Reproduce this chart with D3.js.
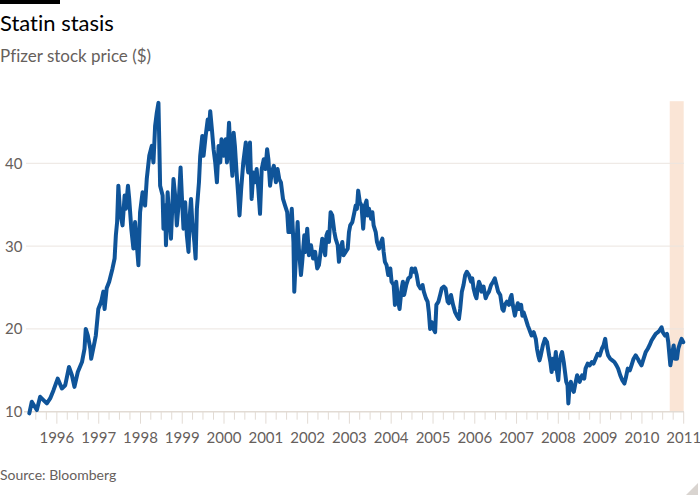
<!DOCTYPE html>
<html>
<head>
<meta charset="utf-8">
<script src="https://cdn.jsdelivr.net/npm/d3@7"></script>
<style>
  body { margin: 0; background: #fff; }
  svg { display: block; font-family: Lato, "Noto Sans", sans-serif; font-variant-ligatures: none; font-feature-settings: "liga" 0; }
</style>
</head>
<body>
<svg></svg>
<script>
var width = 700;
var height = 500;

// dates as decimal years, prices in $
var years = [
  1995.34, 1995.40, 1995.52, 1995.60, 1995.68, 1995.76, 1995.84, 1995.92, 1996.02, 1996.12,
  1996.20, 1996.29, 1996.36, 1996.42, 1996.50, 1996.60, 1996.66, 1996.69, 1996.74, 1996.80,
  1996.82, 1996.90, 1996.93, 1996.99, 1997.06, 1997.11, 1997.14, 1997.19, 1997.25, 1997.33,
  1997.38, 1997.41, 1997.44, 1997.47, 1997.51, 1997.57, 1997.62, 1997.65, 1997.70, 1997.73,
  1997.78, 1997.83, 1997.87, 1997.95, 1997.99, 1998.05, 1998.11, 1998.15, 1998.21, 1998.27,
  1998.31, 1998.35, 1998.39, 1998.43,
  1998.45, 1998.47, 1998.53, 1998.55, 1998.59, 1998.61, 1998.65, 1998.68, 1998.73, 1998.79,
  1998.83, 1998.87, 1998.91, 1998.96, 1998.99, 1999.03, 1999.07, 1999.11, 1999.15, 1999.18,
  1999.21, 1999.24, 1999.29, 1999.32, 1999.35, 1999.40, 1999.43, 1999.48, 1999.51, 1999.56,
  1999.61, 1999.64, 1999.67, 1999.71, 1999.75, 1999.79, 1999.83, 1999.87, 1999.91, 1999.94,
  1999.99, 2000.04, 2000.07, 2000.12, 2000.15, 2000.20, 2000.23, 2000.26, 2000.30, 2000.34,
  2000.37, 2000.41, 2000.46, 2000.52, 2000.55, 2000.58, 2000.62, 2000.66, 2000.70, 2000.74,
  2000.78, 2000.82, 2000.86, 2000.90, 2000.95, 2000.99, 2001.03, 2001.06, 2001.10, 2001.14,
  2001.19, 2001.24, 2001.28, 2001.32, 2001.36, 2001.41, 2001.46, 2001.51, 2001.54,
  2001.58, 2001.62, 2001.66, 2001.68, 2001.72, 2001.76, 2001.79, 2001.84, 2001.87, 2001.92,
  2001.95, 2001.99, 2002.03, 2002.08, 2002.13, 2002.18, 2002.23, 2002.27, 2002.31, 2002.35,
  2002.39, 2002.42, 2002.45, 2002.48, 2002.51, 2002.55, 2002.59, 2002.64, 2002.67, 2002.72,
  2002.75, 2002.78, 2002.83, 2002.86, 2002.91, 2002.96, 2002.99, 2003.02, 2003.07, 2003.12,
  2003.15, 2003.18, 2003.21, 2003.25, 2003.29, 2003.33, 2003.37, 2003.41, 2003.44, 2003.47,
  2003.52, 2003.55, 2003.58, 2003.63, 2003.66, 2003.71, 2003.76, 2003.79, 2003.82, 2003.85,
  2003.89, 2003.93, 2003.98, 2004.01, 2004.06, 2004.09, 2004.12, 2004.17, 2004.20, 2004.25,
  2004.28, 2004.31, 2004.36, 2004.41, 2004.46, 2004.49, 2004.54,
  2004.57, 2004.61, 2004.65, 2004.70, 2004.75, 2004.78, 2004.83, 2004.87, 2004.90, 2004.93,
  2004.97, 2005.01, 2005.05, 2005.08, 2005.13, 2005.17, 2005.21, 2005.26, 2005.30, 2005.35,
  2005.38, 2005.43, 2005.48, 2005.53, 2005.57, 2005.62, 2005.65, 2005.69, 2005.73, 2005.77,
  2005.81, 2005.86, 2005.91, 2005.94, 2005.97, 2006.01, 2006.04, 2006.07, 2006.10, 2006.13,
  2006.16, 2006.21, 2006.26, 2006.29, 2006.34, 2006.39, 2006.44, 2006.48, 2006.53, 2006.56,
  2006.61, 2006.66, 2006.69, 2006.72, 2006.77, 2006.82, 2006.85, 2006.88, 2006.91, 2006.96,
  2006.99, 2007.03, 2007.06, 2007.11, 2007.14, 2007.17, 2007.22, 2007.27, 2007.30, 2007.33,
  2007.36, 2007.41, 2007.46, 2007.49, 2007.52, 2007.55, 2007.58, 2007.63, 2007.68,
  2007.73, 2007.78, 2007.81, 2007.84, 2007.87, 2007.90, 2007.94, 2007.97, 2008.00, 2008.03,
  2008.06, 2008.09, 2008.13, 2008.16, 2008.19, 2008.22, 2008.24, 2008.27, 2008.30, 2008.33,
  2008.37, 2008.40, 2008.45, 2008.48, 2008.51, 2008.54, 2008.57, 2008.62, 2008.65, 2008.70,
  2008.75, 2008.80, 2008.84, 2008.89, 2008.94, 2008.99, 2009.04, 2009.08, 2009.12, 2009.15,
  2009.19, 2009.24, 2009.29, 2009.34, 2009.39, 2009.43, 2009.48, 2009.53, 2009.58, 2009.61,
  2009.66, 2009.71, 2009.75, 2009.80, 2009.85, 2009.90, 2009.94, 2009.99, 2010.04, 2010.09,
  2010.14, 2010.18, 2010.23, 2010.28, 2010.33, 2010.38, 2010.42, 2010.47, 2010.50, 2010.55,
  2010.60, 2010.63, 2010.68, 2010.73, 2010.76, 2010.79, 2010.84, 2010.87, 2010.92, 2010.95,
  2010.99
];

var prices = [
  9.8, 11.2, 10.2, 11.8, 11.4, 11.0, 11.6, 12.6, 14.0, 12.8,
  13.2, 15.4, 14.4, 13.0, 14.8, 16.0, 17.6, 20.0, 19.2, 17.6,
  16.4, 18.4, 19.2, 22.4, 23.3, 24.5, 22.4, 24.9, 25.7, 27.3,
  28.5, 31.3, 32.9, 37.3, 34.1, 32.5, 36.1, 34.5, 37.3, 35.7,
  32.1, 29.7, 32.9, 27.7, 34.1, 36.5, 34.9, 38.1, 40.9, 42.1,
  40.1, 44.5, 46.1, 47.3,
  42.5, 37.3, 36.1, 32.1, 34.9, 30.1, 36.5, 34.1, 30.9, 38.1,
  36.1, 32.5, 34.9, 39.5, 36.1, 32.1, 35.3, 31.3, 29.3, 33.7,
  35.7, 32.9, 30.5, 28.5, 34.5, 37.7, 40.9, 43.3, 40.9, 43.3,
  45.3, 44.1, 46.3, 44.1, 41.7, 40.1, 37.7, 42.1, 40.1, 42.9,
  40.9, 42.9, 40.1, 44.9, 41.7, 38.5, 43.7, 42.1, 38.9, 36.1,
  33.7, 36.9, 40.1, 42.5, 40.1, 38.9, 42.5, 35.7, 38.9, 37.7,
  39.3, 36.9, 33.9, 39.3, 40.5, 39.3, 41.7, 40.5, 37.3, 38.9,
  39.7, 37.7, 39.3, 38.1, 37.7, 35.7, 34.9, 34.1, 31.7,
  31.7, 34.5, 30.5, 24.5, 28.9, 32.9, 29.7, 26.5, 28.1, 31.3,
  29.3, 32.1, 28.9, 30.1, 28.5, 29.3, 27.3, 27.7, 29.3, 30.9,
  29.7, 28.9, 31.3, 31.7, 30.5, 34.1, 33.7, 31.7, 30.9, 30.1,
  28.1, 29.3, 30.5, 28.9, 29.3, 29.7, 31.7, 32.5, 32.9, 34.1,
  34.9, 34.5, 36.7, 35.3, 34.9, 32.1, 34.9, 35.5, 33.7, 34.5,
  33.3, 34.1, 32.5, 31.7, 30.5, 29.7, 30.5, 30.9, 29.3, 28.1,
  27.7, 26.5, 27.3, 25.7, 25.3, 22.9, 25.7, 23.3, 22.4, 24.9,
  25.7, 24.1, 25.3, 26.1, 26.3, 27.3, 26.9,
  27.3, 26.5, 25.3, 24.9, 25.3, 24.5, 23.7, 23.3, 22.0, 20.0,
  20.8, 20.0, 19.6, 22.9, 23.3, 24.1, 24.9, 25.1, 24.9, 23.3,
  23.1, 24.1, 22.9, 22.0, 21.6, 21.2, 22.4, 24.5, 25.3, 26.5,
  26.9, 26.5, 25.7, 26.1, 24.9, 24.1, 23.7, 24.9, 25.7, 25.3,
  24.5, 25.1, 23.7, 24.1, 24.5, 25.3, 25.7, 26.1, 25.1, 24.5,
  24.1, 22.4, 22.2, 22.9, 23.3, 22.9, 23.7, 24.1, 22.9, 21.6,
  22.4, 23.1, 22.4, 22.9, 21.6, 22.0, 21.2, 20.4, 20.0, 19.6,
  19.2, 19.6, 18.8, 17.6, 16.8, 16.2, 16.8, 18.0, 18.8,
  18.4, 16.8, 16.0, 14.8, 16.4, 15.2, 17.2, 14.8, 13.8, 16.0,
  16.8, 17.2, 16.0, 14.8, 13.6, 13.2, 11.0, 13.2, 13.6, 12.8,
  12.4, 13.2, 14.4, 14.0, 13.6, 14.0, 14.4, 14.0, 15.2, 15.8,
  15.6, 16.0, 15.8, 16.4, 17.0, 16.8, 17.6, 18.0, 18.8, 17.6,
  16.8, 16.4, 16.2, 16.0, 15.6, 15.2, 14.4, 13.8, 13.4, 14.0,
  15.2, 15.0, 15.6, 16.4, 16.8, 16.4, 16.0, 15.6, 16.4, 17.2,
  17.6, 18.0, 18.6, 19.0, 19.4, 19.6, 19.8, 20.2, 19.6, 19.2,
  19.4, 18.4, 15.6, 17.2, 18.0, 16.4, 16.4, 17.6, 18.4, 18.8,
  18.4
];

var yTicks = [10, 20, 30, 40];
var highlight = ["2010-09-01", "2011-01-01"];

var title = "Statin stasis";
var subtitle = "Pfizer stock price ($)";
var source = "Source: Bloomberg";

function toDate(y) {
  var yr = Math.floor(y);
  var a = new Date(yr, 0, 1), b = new Date(yr + 1, 0, 1);
  return new Date(+a + (y - yr) * (b - a));
}

var data = years.map(function(y, i) { return { date: toDate(y), value: prices[i] }; });

var svg = d3.select("svg")
  .attr("width", width)
  .attr("height", height);

var x = d3.scaleTime()
  .domain([new Date(1995, 3, 1), new Date(2011, 0, 1)])
  .range([25.4, 683.7]);

var y = d3.scaleLinear()
  .domain([10, 47.5])
  .range([411.7, 101.2]);

var parse = d3.timeParse("%Y-%m-%d");

// top rule
svg.append("rect")
  .attr("x", 0).attr("y", 0)
  .attr("width", 60).attr("height", 4)
  .attr("fill", "#000");

svg.append("text")
  .attr("x", 0).attr("y", 30.5)
  .attr("font-size", "22px")
  .attr("fill", "#000")
  .text(title);

svg.append("text")
  .attr("x", 0).attr("y", 62)
  .attr("font-size", "17px")
  .attr("fill", "#66605c")
  .text(subtitle);

// shaded period
svg.append("rect")
  .attr("x", x(parse(highlight[0])))
  .attr("y", y(47.5))
  .attr("width", x(parse(highlight[1])) - x(parse(highlight[0])))
  .attr("height", y(10) - y(47.5))
  .attr("fill", "#fae5d6");

// gridlines
svg.selectAll(".grid")
  .data(yTicks.filter(function(d) { return d > 10; }))
  .enter().append("line")
    .attr("class", "grid")
    .attr("x1", 26).attr("x2", 684)
    .attr("y1", function(d) { return y(d); })
    .attr("y2", function(d) { return y(d); })
    .attr("stroke", "#ebe5e0")
    .attr("stroke-width", 1);

svg.selectAll(".ylab")
  .data(yTicks)
  .enter().append("text")
    .attr("class", "ylab")
    .attr("x", 5)
    .attr("y", function(d) { return y(d) + 5.5; })
    .attr("font-size", "15px")
    .attr("fill", "#66605c")
    .text(function(d) { return d; });

// x axis: quarter ticks, longer ones at year starts
var xAxis = svg.append("g").attr("transform", "translate(0," + y(10) + ")");

xAxis.append("line")
  .attr("x1", 24).attr("x2", 684)
  .attr("stroke", "#e2dbd4")
  .attr("stroke-width", 1.5);

var quarters = d3.timeMonth.every(3).range(new Date(1995, 6, 1), new Date(2011, 0, 2));
xAxis.selectAll(".tick")
  .data(quarters)
  .enter().append("line")
    .attr("class", "tick")
    .attr("x1", function(d) { return x(d); })
    .attr("x2", function(d) { return x(d); })
    .attr("y1", 0)
    .attr("y2", function(d) { return d.getMonth() === 0 ? 12 : 8; })
    .attr("stroke", "#e2dbd4")
    .attr("stroke-width", 1);

var yearsLab = d3.timeYear.range(new Date(1996, 0, 1), new Date(2011, 0, 2));
xAxis.selectAll(".xlab")
  .data(yearsLab)
  .enter().append("text")
    .attr("class", "xlab")
    .attr("x", function(d) { return x(d); })
    .attr("y", 31.6)
    .attr("text-anchor", "middle")
    .attr("font-size", "15px")
    .attr("fill", "#66605c")
    .text(d3.timeFormat("%Y"));

var line = d3.line()
  .x(function(d) { return x(d.date); })
  .y(function(d) { return y(d.value); });

svg.append("path")
  .datum(data)
  .attr("d", line)
  .attr("fill", "none")
  .attr("stroke", "#0f5499")
  .attr("stroke-width", 4)
  .attr("stroke-linejoin", "round")
  .attr("stroke-linecap", "round");

svg.append("text")
  .attr("x", 0).attr("y", 480)
  .attr("font-size", "14px")
  .attr("fill", "#66605c")
  .text(source);

// corner mark
svg.append("path")
  .attr("d", "M686,495L698,483L698,495Z")
  .attr("fill", "#d9d4d0");
</script>
</body>
</html>
